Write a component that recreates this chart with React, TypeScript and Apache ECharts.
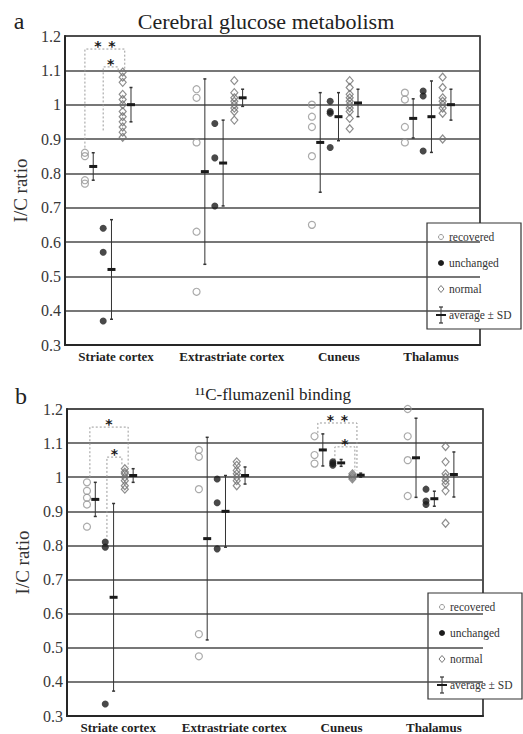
import React, { useEffect, useRef } from "react";
import * as echarts from "echarts";

// Brain regions on the x axis
const regions = ["Striate cortex", "Extrastriate cortex", "Cuneus", "Thalamus"];
// Position of each region (unchanged column) on a 0–10 x scale, and where its label sits
const groupCenters = [0.92, 3.61, 6.39, 8.63];
const labelPositions = [1.23, 4.02, 6.6, 8.82];
// Column offsets inside a region: recovered, unchanged, normal; the mean ± SD bar sits a bit to the right
const colOffsets = [-0.44, 0, 0.47];
const barShift = 0.2;

// a: cerebral glucose metabolism, I/C ratio per subject
const glucoseRecovered = [
  [0.86, 0.85, 0.78, 0.77],
  [1.045, 1.02, 0.89, 0.63, 0.455],
  [1.0, 0.965, 0.935, 0.85, 0.65],
  [1.035, 1.015, 0.935, 0.89],
];
const glucoseUnchanged = [
  [0.64, 0.57, 0.37],
  [0.945, 0.845, 0.705],
  [1.01, 0.98, 0.975, 0.875],
  [1.04, 1.025, 0.865],
];
const glucoseNormal = [
  [1.095, 1.08, 1.065, 1.03, 1.015, 1.0, 0.98, 0.965, 0.95, 0.935, 0.92, 0.905],
  [1.07, 1.035, 1.02, 1.01, 1.0, 0.99, 0.98, 0.955],
  [1.07, 1.05, 1.03, 1.02, 1.01, 1.0, 0.99, 0.98, 0.96, 0.93],
  [1.08, 1.05, 1.02, 1.01, 1.0, 0.99, 0.975, 0.9],
];
const glucoseRecMean = [0.82, 0.805, 0.89, 0.96];
const glucoseRecSD = [0.04, 0.27, 0.145, 0.057];
const glucoseUnchMean = [0.52, 0.83, 0.965, 0.965];
const glucoseUnchSD = [0.145, 0.125, 0.07, 0.104];
const glucoseNormMean = [1.0, 1.02, 1.005, 1.0];
const glucoseNormSD = [0.05, 0.025, 0.04, 0.045];
// Significance brackets: [region, leftCol, rightCol, leftNudge, rightNudge, top, leftEnd, rightEnd, stars]
const glucoseBrackets = [
  [0, 0, 2, 0.0, 0.05, 1.162, 0.875, 1.105, 2],
  [0, 1, 2, 0.0, -0.11, 1.11, 0.925, 1.1, 1],
];

// b: 11C-flumazenil binding, I/C ratio per subject
const fmzRecovered = [
  [0.985, 0.96, 0.94, 0.92, 0.855],
  [1.08, 1.06, 0.965, 0.54, 0.475],
  [1.12, 1.065, 1.04],
  [1.2, 1.12, 1.05, 0.945],
];
const fmzUnchanged = [
  [0.81, 0.795, 0.335],
  [0.995, 0.925, 0.79],
  [1.045, 1.04, 1.035],
  [0.965, 0.93, 0.92],
];
const fmzNormal = [
  [1.025, 1.015, 1.01, 1.0, 0.99, 0.975, 0.965],
  [1.045, 1.035, 1.02, 1.01, 1.0, 0.99, 0.975],
  [1.01, 1.005, 1.0, 0.995],
  [1.09, 1.045, 1.01, 1.0, 0.99, 0.98, 0.96, 0.865],
];
const fmzRecMean = [0.935, 0.82, 1.08, 1.057];
const fmzRecSD = [0.05, 0.297, 0.047, 0.116];
const fmzUnchMean = [0.648, 0.9, 1.042, 0.937];
const fmzUnchSD = [0.275, 0.105, 0.01, 0.022];
const fmzNormMean = [1.005, 1.005, 1.006, 1.008];
const fmzNormSD = [0.02, 0.025, 0.006, 0.066];
const fmzBrackets = [
  [0, 0, 2, 0.07, 0.08, 1.147, 1.0, 1.03, 1],
  [0, 1, 2, 0.04, -0.07, 1.059, 0.825, 1.035, 1],
  [2, 0, 2, 0.08, 0.11, 1.159, 1.13, 1.02, 2],
  [2, 1, 2, 0.05, 0.06, 1.089, 1.05, 1.02, 1],
];

const SERIF = "Liberation Serif";
const INK = "#262626";

const colX = (g: number, c: number) => groupCenters[g] + colOffsets[c];

const points = (rows: number[][], c: number) =>
  rows.flatMap((vals, g) => vals.map((v) => [colX(g, c), v]));

const bars = (means: number[], sds: number[], c: number) =>
  means.map((m, g) => [colX(g, c) + barShift, m, sds[g]]);

const bracketRows = (rows: number[][]) =>
  rows.map(([g, lc, rc, ln, rn, top, le, re, n]) => [
    colX(g, lc) + ln,
    colX(g, rc) + rn,
    top,
    le,
    re,
    n,
  ]);

const errorBarRender = (_params: any, api: any) => {
  const x = api.value(0);
  const m = api.value(1);
  const s = api.value(2);
  const top = api.coord([x, m + s]);
  const bot = api.coord([x, m - s]);
  const mid = api.coord([x, m]);
  return {
    type: "group",
    children: [
      { type: "line", shape: { x1: top[0], y1: top[1], x2: bot[0], y2: bot[1] }, style: { stroke: "#333", lineWidth: 1 } },
      { type: "line", shape: { x1: top[0] - 1.5, y1: top[1], x2: top[0] + 1.5, y2: top[1] }, style: { stroke: "#333", lineWidth: 1.5 } },
      { type: "line", shape: { x1: bot[0] - 1.5, y1: bot[1], x2: bot[0] + 1.5, y2: bot[1] }, style: { stroke: "#333", lineWidth: 1.5 } },
      { type: "rect", shape: { x: mid[0] - 4, y: mid[1] - 1.5, width: 8, height: 3 }, style: { fill: "#1a1a1a" } },
    ],
  };
};

const bracketRender = (_params: any, api: any) => {
  const xL = api.value(0);
  const xR = api.value(1);
  const top = api.value(2);
  const le = api.value(3);
  const re = api.value(4);
  const n = api.value(5);
  const pLE = api.coord([xL, le]);
  const pLT = api.coord([xL, top]);
  const pRT = api.coord([xR, top]);
  const pRE = api.coord([xR, re]);
  const children: any[] = [
    {
      type: "polyline",
      shape: { points: [pLE, pLT, pRT, pRE] },
      style: { stroke: "#9a9a9a", lineWidth: 1, lineDash: [2, 2], fill: null },
    },
  ];
  const mid = (pLT[0] + pRT[0]) / 2;
  const sy = api.coord([xL, top + 0.017])[1];
  for (let i = 0; i < n; i++) {
    children.push({
      type: "text",
      style: {
        text: "*",
        x: mid + (i - (n - 1) / 2) * 14,
        y: sy + 3,
        align: "center",
        verticalAlign: "middle",
        fontSize: 14,
        fontWeight: "bold",
        fontFamily: "DejaVu Sans",
        fill: "#1a1a1a",
      },
    });
  }
  return { type: "group", children };
};

function panelSeries(
  idx: number,
  rec: number[][],
  unch: number[][],
  norm: number[][],
  recMean: number[],
  recSD: number[],
  unchMean: number[],
  unchSD: number[],
  normMean: number[],
  normSD: number[],
  brackets: number[][]
) {
  return [
    {
      type: "custom",
      name: "brackets",
      xAxisIndex: idx,
      yAxisIndex: idx,
      renderItem: bracketRender,
      data: bracketRows(brackets),
      z: 3,
    },
    {
      type: "scatter",
      name: "recovered",
      xAxisIndex: idx,
      yAxisIndex: idx,
      symbol: "circle",
      symbolSize: 7,
      itemStyle: { color: "rgba(255,255,255,0)", borderColor: "#959595", borderWidth: 1.2 },
      data: points(rec, 0),
      z: 4,
    },
    {
      type: "scatter",
      name: "unchanged",
      xAxisIndex: idx,
      yAxisIndex: idx,
      symbol: "circle",
      symbolSize: 7,
      itemStyle: { color: "#1c1c1c" },
      data: points(unch, 1),
      z: 4,
    },
    {
      type: "scatter",
      name: "normal",
      xAxisIndex: idx,
      yAxisIndex: idx,
      symbol: "diamond",
      symbolSize: [7, 8],
      itemStyle: { color: "rgba(255,255,255,0)", borderColor: "#707070", borderWidth: 1.2 },
      data: points(norm, 2),
      z: 4,
    },
    {
      type: "custom",
      name: "average ± SD",
      xAxisIndex: idx,
      yAxisIndex: idx,
      renderItem: errorBarRender,
      data: [
        ...bars(recMean, recSD, 0),
        ...bars(unchMean, unchSD, 1),
        ...bars(normMean, normSD, 2),
      ],
      z: 5,
    },
  ];
}

function legendBox(left: number, top: number) {
  const label = (y: number, text: string) => ({
    type: "text",
    x: left + 22,
    y,
    style: { text, fontSize: 11.5, fontFamily: SERIF, fill: "#333", verticalAlign: "middle" },
  });
  const ix = left + 14;
  return {
    type: "group",
    z: 100,
    children: [
      {
        type: "rect",
        shape: { x: left, y: top, width: 94, height: 106 },
        style: { fill: "#fff", stroke: "#333", lineWidth: 1.2 },
      },
      { type: "circle", shape: { cx: ix, cy: top + 14, r: 2.5 }, style: { fill: "#fff", stroke: "#999", lineWidth: 1 } },
      label(top + 14, "recovered"),
      { type: "circle", shape: { cx: ix, cy: top + 40, r: 3 }, style: { fill: "#1c1c1c" } },
      label(top + 40, "unchanged"),
      {
        type: "polygon",
        shape: { points: [[ix, top + 62.5], [ix + 3, top + 66], [ix, top + 69.5], [ix - 3, top + 66]] },
        style: { fill: "#fff", stroke: "#777", lineWidth: 1 },
      },
      label(top + 66, "normal"),
      { type: "line", shape: { x1: ix, y1: top + 84, x2: ix, y2: top + 100 }, style: { stroke: "#333", lineWidth: 1 } },
      { type: "line", shape: { x1: ix - 2, y1: top + 84, x2: ix + 2, y2: top + 84 }, style: { stroke: "#333", lineWidth: 1.2 } },
      { type: "line", shape: { x1: ix - 2, y1: top + 100, x2: ix + 2, y2: top + 100 }, style: { stroke: "#333", lineWidth: 1.2 } },
      { type: "rect", shape: { x: ix - 5, y: top + 91, width: 10, height: 2 }, style: { fill: "#1a1a1a" } },
      label(top + 92, "average ± SD"),
    ],
  };
}

const nearestLabel = (v: number) => {
  let best = 0;
  labelPositions.forEach((p, i) => {
    if (Math.abs(p - v) < Math.abs(labelPositions[best] - v)) best = i;
  });
  return regions[best];
};

function axes(idx: number) {
  const xAxis = {
    type: "value",
    gridIndex: idx,
    min: 0,
    max: 10,
    splitLine: { show: false },
    axisTick: { show: false },
    axisLine: { show: true, onZero: false, lineStyle: { color: INK, width: 2 } },
    axisLabel: {
      customValues: labelPositions,
      formatter: (v: number) => nearestLabel(v),
      fontFamily: SERIF,
      fontWeight: "bold",
      fontSize: 13,
      color: "#222",
      margin: 5,
    },
  };
  const yAxis = {
    type: "value",
    gridIndex: idx,
    min: 0.3,
    max: 1.2,
    interval: 0.1,
    name: "I/C ratio",
    nameLocation: "middle",
    nameGap: 31,
    nameTextStyle: { fontFamily: SERIF, fontSize: 19, color: "#333" },
    axisTick: { show: false },
    axisLine: { show: true, lineStyle: { color: INK, width: 2 } },
    splitLine: { show: true, lineStyle: { color: "#4a4a4a", width: 1.5 } },
    axisLabel: { fontFamily: SERIF, fontSize: 16, color: "#383838", margin: 4 },
  };
  return { xAxis, yAxis };
}

export default function App() {
  const ref = useRef<HTMLDivElement>(null);

  useEffect(() => {
    if (!ref.current) return;
    const chart = echarts.init(ref.current, undefined, { renderer: "svg" });
    const a = axes(0);
    const b = axes(1);
    chart.setOption({
      animation: false,
      backgroundColor: "#fff",
      textStyle: { fontFamily: SERIF },
      grid: [
        { left: 65, top: 36, width: 415, height: 309, show: true, borderColor: INK, borderWidth: 1.6, containLabel: false },
        { left: 67, top: 409, width: 416, height: 307, show: true, borderColor: INK, borderWidth: 1.6, containLabel: false },
      ],
      xAxis: [a.xAxis, b.xAxis],
      yAxis: [a.yAxis, b.yAxis],
      series: [
        ...panelSeries(
          0,
          glucoseRecovered,
          glucoseUnchanged,
          glucoseNormal,
          glucoseRecMean,
          glucoseRecSD,
          glucoseUnchMean,
          glucoseUnchSD,
          glucoseNormMean,
          glucoseNormSD,
          glucoseBrackets
        ),
        ...panelSeries(
          1,
          fmzRecovered,
          fmzUnchanged,
          fmzNormal,
          fmzRecMean,
          fmzRecSD,
          fmzUnchMean,
          fmzUnchSD,
          fmzNormMean,
          fmzNormSD,
          fmzBrackets
        ),
      ],
      graphic: [
        {
          type: "text",
          x: 19,
          y: 21,
          z: 100,
          style: { text: "a", fontSize: 24, fontFamily: SERIF, fill: "#222", align: "center", verticalAlign: "middle" },
        },
        {
          type: "text",
          x: 266,
          y: 21,
          z: 100,
          style: {
            text: "Cerebral glucose metabolism",
            fontSize: 22,
            fontFamily: SERIF,
            fill: "#222",
            align: "center",
            verticalAlign: "middle",
          },
        },
        {
          type: "text",
          x: 21,
          y: 396,
          z: 100,
          style: { text: "b", fontSize: 24, fontFamily: SERIF, fill: "#222", align: "center", verticalAlign: "middle" },
        },
        {
          type: "text",
          x: 273,
          y: 394,
          z: 100,
          style: {
            text: "¹¹C-flumazenil binding",
            fontSize: 17,
            fontFamily: SERIF,
            fill: "#222",
            align: "center",
            verticalAlign: "middle",
          },
        },
        legendBox(427, 223),
        legendBox(428, 593),
      ],
    });
    return () => chart.dispose();
  }, []);

  return (
    <div
      ref={ref}
      style={{ position: "fixed", left: 0, top: 0, width: 523, height: 734, background: "#fff" }}
    />
  );
}
